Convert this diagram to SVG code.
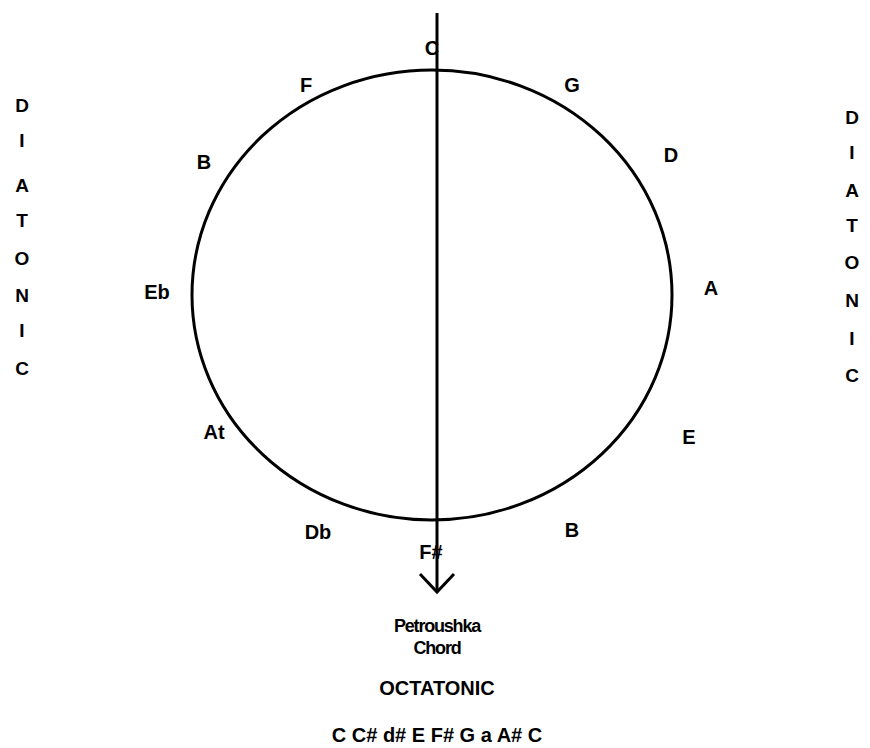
<svg xmlns="http://www.w3.org/2000/svg" width="870" height="748" viewBox="0 0 870 748">
<style>
text{font-family:"Liberation Sans",Arial,sans-serif;font-weight:bold;fill:#000;text-anchor:middle}
.n{font-size:20px}
.v{font-size:19px}
.s{font-size:18px;letter-spacing:-1.2px}
.line{stroke:#000;stroke-width:3;fill:none}
</style>
<rect width="870" height="748" fill="#fff"/>
<g id="connectors">
<ellipse class="line" cx="432" cy="295" rx="240" ry="225"/>
<line class="line" x1="437" y1="13" x2="437" y2="592"/>
<polyline class="line" points="420,574 437,592 454,574"/>
</g>
<g id="note-C"><text class="n" x="432" y="55">C</text></g>
<g id="note-F"><text class="n" x="306" y="92">F</text></g>
<g id="note-G"><text class="n" x="572" y="92">G</text></g>
<g id="note-Bb"><text class="n" x="204" y="169">B</text></g>
<g id="note-D"><text class="n" x="671" y="162">D</text></g>
<g id="note-Eb"><text class="n" x="157" y="299">Eb</text></g>
<g id="note-A"><text class="n" x="711" y="295">A</text></g>
<g id="note-Ab"><text class="n" x="214" y="439">At</text></g>
<g id="note-E"><text class="n" x="689" y="444">E</text></g>
<g id="note-Db"><text class="n" x="318" y="539">Db</text></g>
<g id="note-B"><text class="n" x="572" y="537">B</text></g>
<g id="note-Fs"><text class="n" x="431" y="559">F#</text></g>
<g id="diatonic-left">
<text class="v" x="22" y="112">D</text>
<text class="v" x="22" y="147">I</text>
<text class="v" x="22" y="192">A</text>
<text class="v" x="22" y="227">T</text>
<text class="v" x="22" y="265">O</text>
<text class="v" x="22" y="302">N</text>
<text class="v" x="22" y="337">I</text>
<text class="v" x="22" y="375">C</text>
</g>
<g id="diatonic-right">
<text class="v" x="852" y="124">D</text>
<text class="v" x="852" y="159">I</text>
<text class="v" x="852" y="197">A</text>
<text class="v" x="852" y="232">T</text>
<text class="v" x="852" y="269">O</text>
<text class="v" x="852" y="307">N</text>
<text class="v" x="852" y="345">I</text>
<text class="v" x="852" y="382">C</text>
</g>
<g id="petroushka">
<text class="s" x="437" y="632">Petroushka</text>
<text class="s" x="437" y="654">Chord</text>
</g>
<g id="octatonic">
<text class="n" x="437" y="695">OCTATONIC</text>
<text class="n" x="437" y="742">C C# d# E F# G a A# C</text>
</g>
</svg>
